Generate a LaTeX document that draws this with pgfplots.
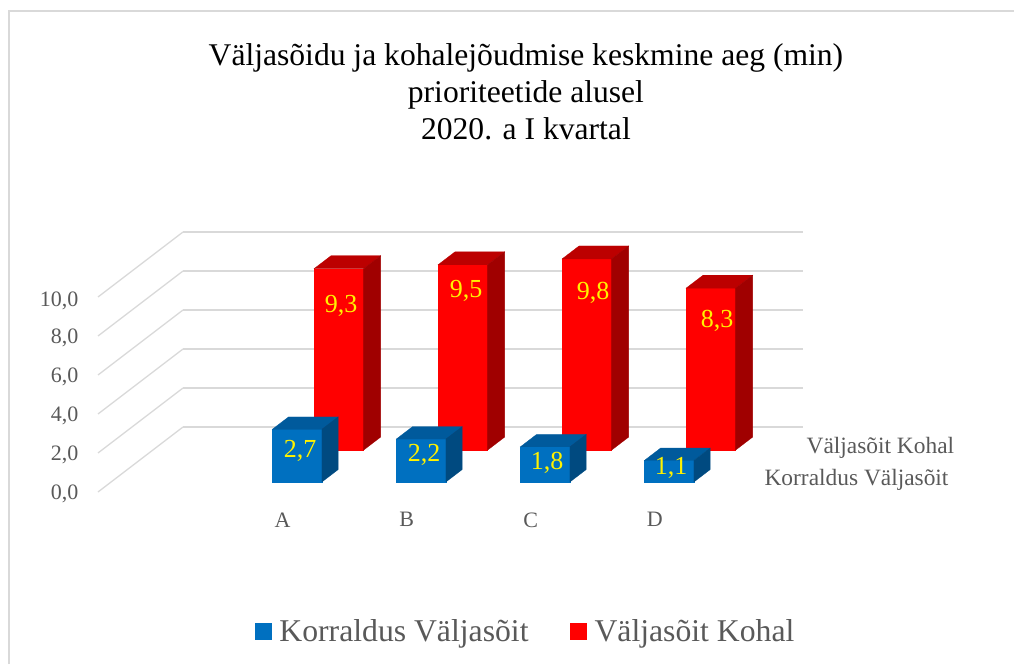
\documentclass[border=0pt]{standalone}
\usepackage{fontspec}
\setmainfont{Liberation Serif}
\usepackage{pgfplots}
\pgfplotsset{compat=1.18}

\definecolor{gridc}{HTML}{D9D9D9}
\definecolor{textc}{HTML}{595959}
\definecolor{blueF}{HTML}{0070C0}
\definecolor{blueT}{HTML}{005A9C}
\definecolor{blueS}{HTML}{004A80}
\definecolor{redF}{HTML}{FF0000}
\definecolor{redT}{HTML}{BC0000}
\definecolor{redS}{HTML}{A00000}

% x0 x1 y0 y1 value, colours front/top/side
\newcommand{\cuboid}[8]{%
  \addplot3[forget plot, draw=#6, line width=0.3pt, fill=#6] coordinates {(#1,#3,0) (#2,#3,0) (#2,#3,#5) (#1,#3,#5)} --cycle;
  \addplot3[forget plot, draw=#7, line width=0.3pt, fill=#7] coordinates {(#1,#3,#5) (#2,#3,#5) (#2,#4,#5) (#1,#4,#5)} --cycle;
  \addplot3[forget plot, draw=#8, line width=0.3pt, fill=#8] coordinates {(#2,#3,0) (#2,#4,0) (#2,#4,#5) (#2,#3,#5)} --cycle;
}
\newcommand{\val}[4]{\node[text=yellow, font=\fontsize{26}{26}\selectfont] at (axis cs:#1,#2,#3) {#4};}

\begin{document}
\begin{tikzpicture}[x=1pt,y=1pt]
\path[use as bounding box] (0,0) rectangle (1014,664);
\draw[gridc, line width=2.5pt] (9,0) -- (9,653) -- (1014,653);
\begin{axis}[
    at={(98pt,172pt)}, anchor=south west,
    x={(124pt,0pt)}, y={(42.5pt,32.5pt)}, z={(0pt,19.5pt)},
    xmin=-0.5, xmax=4.5, ymin=0, ymax=2, zmin=0, zmax=10,
    clip=false,
    axis line style={draw=none},
    major tick length=0pt,
    zmajorgrids=true,
    grid style={gridc, line width=1.3pt},
    xtick={1,2,3,4}, xticklabels={A,B,C,D},
    ytick={0.46,1.45}, yticklabels={Korraldus Väljasõit,Väljasõit Kohal},
    ztick={0,2,4,6,8,10},
    /pgf/number format/assume math mode=true,
    /pgf/number format/use comma,
    /pgf/number format/fixed, /pgf/number format/fixed zerofill, /pgf/number format/precision=1,
    tick label style={text=textc, font=\fontsize{22}{22}\selectfont},
    xticklabel style={xshift=4pt, yshift=-17pt},
    yticklabel style={anchor=west, xshift=23.5pt, yshift=-2.5pt, font=\fontsize{23.4}{23.4}\selectfont},
    zticklabel style={xshift=-16pt, yshift=4pt},
    title={Väljasõidu ja kohalejõudmise keskmine aeg (min)\\prioriteetide alusel\\2020. a I kvartal},
    title style={align=center, font=\fontsize{31.6}{37}\selectfont, at={(0.607,1.316)}, anchor=south},
    legend columns=2,
    legend style={draw=none, fill=none, font=\fontsize{31.7}{31.7}\selectfont, text=textc,
      at={(0.607,-0.535)}, anchor=center,
      /tikz/every even column/.append style={column sep=40pt},
      /tikz/every odd column/.append style={column sep=6pt}},
]
\addlegendimage{only marks, mark=square*, mark size=8pt, color=blueF}
\addlegendentry{Korraldus Väljasõit}
\addlegendimage{only marks, mark=square*, mark size=8pt, color=redF}
\addlegendentry{Väljasõit Kohal}
% Väljasõit Kohal (back row)
\cuboid{0.8}{1.2}{1.29}{1.69}{9.3}{redF}{redT}{redS}
\cuboid{1.8}{2.2}{1.29}{1.69}{9.5}{redF}{redT}{redS}
\cuboid{2.8}{3.2}{1.29}{1.69}{9.8}{redF}{redT}{redS}
\cuboid{3.8}{4.2}{1.29}{1.69}{8.3}{redF}{redT}{redS}
% Korraldus Väljasõit (front row)
\cuboid{0.8}{1.2}{0.31}{0.69}{2.7}{blueF}{blueT}{blueS}
\cuboid{1.8}{2.2}{0.31}{0.69}{2.2}{blueF}{blueT}{blueS}
\cuboid{2.8}{3.2}{0.31}{0.69}{1.8}{blueF}{blueT}{blueS}
\cuboid{3.8}{4.2}{0.31}{0.69}{1.1}{blueF}{blueT}{blueS}
\val{1.024}{0.31}{1.6}{2,7}
\val{2.024}{0.31}{1.4}{2,2}
\val{3.016}{0.31}{1.0}{1,8}
\val{4.016}{0.31}{0.72}{1,1}
\val{1.018}{1.29}{7.4}{9,3}
\val{2.026}{1.29}{8.17}{9,5}
\val{3.05}{1.29}{8.06}{9,8}
\val{4.05}{1.29}{6.63}{8,3}
\end{axis}
\end{tikzpicture}
\end{document}
